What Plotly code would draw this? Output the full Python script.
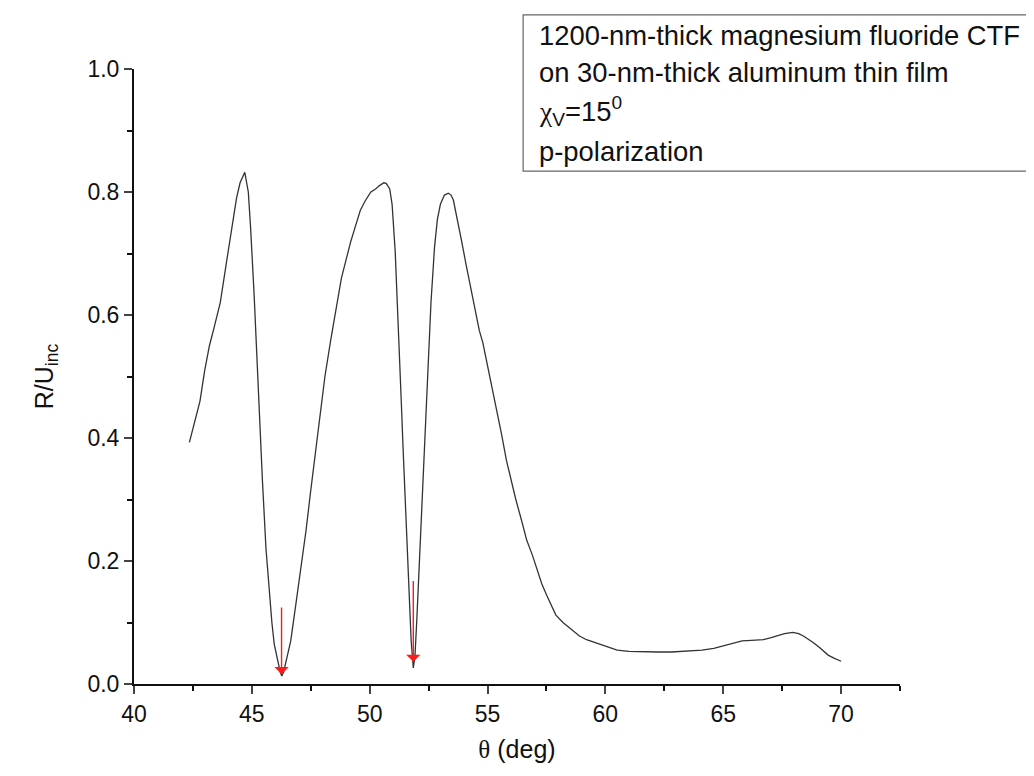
import plotly.graph_objects as go

# Reflectance curve
theta = [42.35, 42.6, 42.8, 43.0, 43.2, 43.4, 43.66, 43.9, 44.1, 44.35, 44.5, 44.7, 44.85, 44.95,
         45.1, 45.2, 45.35, 45.45, 45.6, 45.7, 45.85, 45.95, 46.1, 46.2, 46.27, 46.35, 46.5, 46.65,
         46.85, 47.07, 47.3, 47.5, 47.7, 47.9, 48.1, 48.35, 48.6, 48.8, 49.0, 49.2, 49.4, 49.6,
         49.8, 50.05, 50.25, 50.4, 50.6, 50.7, 50.85, 50.95, 51.08, 51.18, 51.25, 51.35, 51.42,
         51.52, 51.6, 51.7, 51.76, 51.85, 51.92, 52.0, 52.1, 52.2, 52.3, 52.4, 52.5, 52.6, 52.75,
         52.87, 53.0, 53.17, 53.34, 53.45, 53.55, 53.7, 53.9, 54.1, 54.3, 54.5, 54.65, 54.8, 54.95,
         55.2, 55.4, 55.6, 55.8, 56.0, 56.2, 56.45, 56.66, 56.9, 57.1, 57.3, 57.5, 57.7, 57.9,
         58.2, 58.6, 58.9, 59.2, 59.5, 59.9, 60.2, 60.5, 61.0, 61.6, 62.2, 62.8, 63.5, 64.1, 64.6,
         65.0, 65.4, 65.8, 66.2, 66.7, 67.0, 67.3, 67.6, 67.95, 68.2, 68.4, 68.6, 68.8, 69.1, 69.3,
         69.45, 69.7, 70.0]
reflectance = [0.393, 0.43, 0.46, 0.51, 0.55, 0.58, 0.62, 0.68, 0.73, 0.79, 0.815, 0.832, 0.80, 0.74,
               0.63, 0.54, 0.42, 0.33, 0.22, 0.17, 0.10, 0.065, 0.035, 0.02, 0.013, 0.02, 0.045, 0.07,
               0.125, 0.185, 0.25, 0.315, 0.38, 0.44, 0.50, 0.56, 0.615, 0.66, 0.69, 0.72, 0.745, 0.77,
               0.785, 0.80, 0.805, 0.81, 0.815, 0.814, 0.805, 0.78, 0.705, 0.62, 0.54, 0.45, 0.38,
               0.28, 0.20, 0.11, 0.07, 0.026, 0.045, 0.105, 0.19, 0.27, 0.36, 0.46, 0.55, 0.62, 0.71,
               0.755, 0.78, 0.795, 0.798, 0.795, 0.787, 0.76, 0.72, 0.68, 0.64, 0.60, 0.575, 0.555, 0.527,
               0.48, 0.445, 0.405, 0.364, 0.33, 0.30, 0.265, 0.234, 0.21, 0.185, 0.163, 0.145, 0.128, 0.112,
               0.10, 0.088, 0.078, 0.072, 0.068, 0.062, 0.058, 0.055, 0.053, 0.052, 0.052, 0.052, 0.053, 0.055, 0.058,
               0.062, 0.066, 0.07, 0.071, 0.072, 0.075, 0.078, 0.082, 0.084, 0.082, 0.078, 0.073, 0.068, 0.059, 0.053,
               0.047, 0.042, 0.037]

# Red arrows marking the two minima (x, tip value, tail value)
arrow_theta = [46.26, 51.85]
arrow_tip = [0.016, 0.036]
arrow_tail = [0.127, 0.17]

x_ticks = [40, 45, 50, 55, 60, 65, 70]
y_ticks = [0.0, 0.2, 0.4, 0.6, 0.8, 1.0]

info_lines = [
    "1200-nm-thick magnesium fluoride CTF",
    "on 30-nm-thick aluminum thin film",
    "<span style=\"font-family:'Liberation Serif'\">χ</span><sub>V</sub>=15<sup>0</sup>",
    "p-polarization",
]

FONT = "Liberation Sans, Arial, sans-serif"

fig = go.Figure()
fig.add_trace(go.Scatter(x=theta, y=reflectance, mode="lines",
                         line=dict(color="#333333", width=1.3), showlegend=False))

for xa, yt, yb in zip(arrow_theta, arrow_tip, arrow_tail):
    fig.add_annotation(x=xa, y=yt, ax=xa, ay=yb, xref="x", yref="y", axref="x", ayref="y",
                       showarrow=True, arrowhead=1, arrowsize=1.7, arrowwidth=1.4,
                       arrowcolor="#ff1a1a", text="")

# info box
fig.add_shape(type="rect", xref="paper", yref="paper", x0=0.508, x1=1.2, y0=0.834, y1=1.088,
              line=dict(color="#666666", width=1.2), fillcolor="rgba(0,0,0,0)")
line_y = [1.055, 0.995, 0.931, 0.866]
for txt, yy in zip(info_lines, line_y):
    fig.add_annotation(x=0.526, y=yy, xref="paper", yref="paper", text=txt, showarrow=False,
                       xanchor="left", yanchor="middle", font=dict(family=FONT, size=27.4, color="#111111"))

fig.update_layout(
    width=1034, height=776,
    margin=dict(l=126, r=142, t=61, b=100),
    paper_bgcolor="white", plot_bgcolor="white",
    font=dict(family=FONT, color="#111111"),
    xaxis=dict(range=[40, 72.5], tickvals=x_ticks, ticks="outside", ticklen=8, tickwidth=2,
               showline=True, linewidth=2, linecolor="#111111", showgrid=False, zeroline=False,
               tickfont=dict(size=23),
               minor=dict(ticks="outside", dtick=2.5, ticklen=5, tickwidth=2,
                          tickcolor="#111111", showgrid=False),
               title=dict(text="<span style=\"font-family:'Liberation Serif'\">θ</span> (deg)",
                          font=dict(size=25), standoff=15)),
    yaxis=dict(range=[0, 1.0], tickvals=y_ticks, tickformat=".1f", ticks="outside", ticklen=8,
               tickwidth=2, showline=True, linewidth=2, linecolor="#111111", showgrid=False,
               zeroline=False, tickfont=dict(size=23),
               minor=dict(ticks="outside", dtick=0.1, ticklen=5, tickwidth=2, tickcolor="#111111",
                          showgrid=False),
               title=dict(text="R/U<sub>inc</sub>", font=dict(size=25), standoff=27)),
)

fig.write_html("out.html")
